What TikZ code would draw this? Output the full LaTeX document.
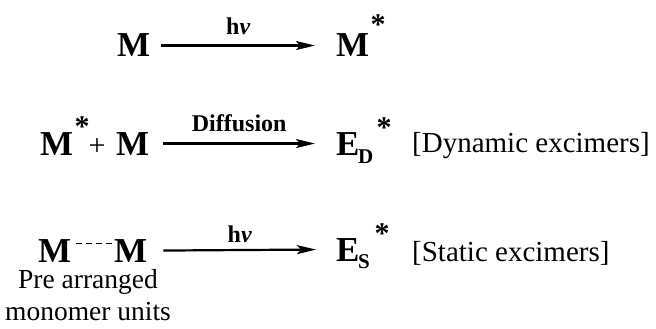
\documentclass[tikz,border=0pt]{standalone}
\usepackage{fontspec}
\setmainfont{Liberation Serif}
\usetikzlibrary{arrows.meta,positioning}

\begin{document}
\begin{tikzpicture}[x=1pt, y=-1pt,
    species/.style={inner sep=0pt, anchor=base west, font=\fontsize{35}{40}\selectfont\bfseries},
    sub/.style={inner sep=0pt, anchor=base west, font=\fontsize{21}{24}\selectfont\bfseries},
    excited/.style={inner sep=0pt, anchor=base, font=\fontsize{30}{30}\selectfont\bfseries},
    note/.style={inner sep=0pt, anchor=base west, font=\fontsize{29}{34}\selectfont},
    arrow/.style={-{Stealth[length=19pt, width=9pt, inset=4pt]}, line width=2.2pt},
    cond/.style={midway, inner sep=0pt, anchor=base, font=\fontsize{24}{26}\selectfont\bfseries}
]
\useasboundingbox (0,0) rectangle (656,329);

% Row 1: absorption
\node[species] (m1) at (117, 57) {M};
\node[species] (m1s) at (336, 57) {M};
\node[excited] (m1x) at (378, 35) {*};

% Row 2: dynamic excimer
\node[species] (m2) at (40, 155) {M};
\node[excited] (m2x) at (82, 136) {*};
\node[inner sep=0pt, font=\fontsize{30}{30}\selectfont] (plus) at (97, 147) {+};
\node[species] (m2b) at (116, 155) {M};
\node[species] (ed) at (336, 155) {E};
\node[sub] (edsub) at (358, 163) {D};
\node[excited] (edx) at (384, 137) {*};
\node[note] (dyn) at (412, 152) {[Dynamic excimers]};

% Row 3: static excimer
\node[species] (m3a) at (38, 262) {M};
\node[species] (m3b) at (114, 262) {M};
\node[species] (es) at (336, 261) {E};
\node[sub] (essub) at (358, 268) {S};
\node[excited] (esx) at (382, 243) {*};
\node[note] (stat) at (412, 261) {[Static excimers]};
\node[inner sep=0pt, anchor=north, align=center, font=\fontsize{27.5}{32}\selectfont] (pre) at (88, 269) {Pre arranged\\monomer units};

% Arrows
\draw[arrow] ([xshift=11pt]m1.east) -- ([xshift=-21pt]m1s.west)
    node[cond, yshift=11pt] {h\itshape ν};
\draw[arrow] ([xshift=14pt]m2b.east) -- ([xshift=-21pt]ed.west)
    node[cond, yshift=12pt] {Diffusion};
\draw[arrow] ([xshift=16pt]m3b.east) -- ([xshift=-20pt]es.west)
    node[cond, yshift=8pt] {h\itshape ν};
\draw[line width=1pt, dash pattern=on 6pt off 4pt] ([xshift=5pt, yshift=7pt]m3a.east) -- ([xshift=-1pt, yshift=7pt]m3b.west);

\end{tikzpicture}
\end{document}
